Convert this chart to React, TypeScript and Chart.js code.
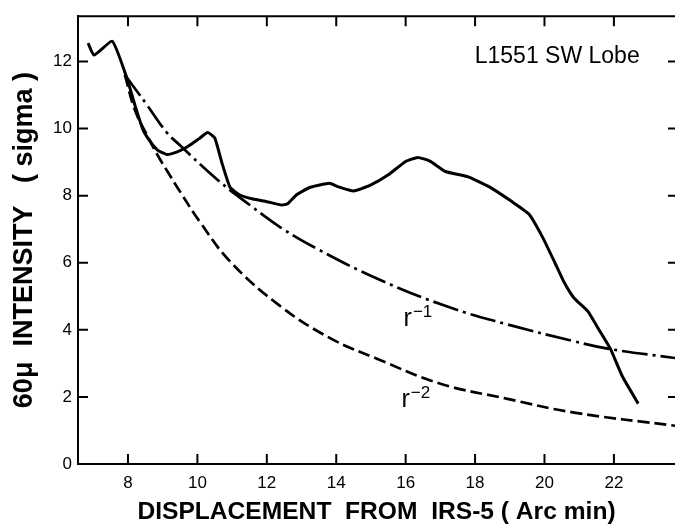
import React, { useEffect, useRef } from "react";
import { Chart, registerables } from "chart.js";

Chart.register(...registerables);

// Axis ticks
const xTickValues = [8, 10, 12, 14, 16, 18, 20, 22];
const yTickValues = [0, 2, 4, 6, 8, 10, 12];

// Observed 60µ intensity profile (solid)
const observedX = [6.85, 7.02, 7.55, 7.97, 8.2, 8.43, 8.65, 8.86, 9.12, 9.4, 9.7, 10.05, 10.3, 10.5, 10.7, 10.94, 11.22, 11.6, 12.0, 12.43, 12.6, 12.85, 13.25, 13.8, 14.05, 14.5, 15.0, 15.5, 16.0, 16.35, 16.7, 17.15, 17.8, 18.4, 19.05, 19.55, 19.95, 20.3, 20.55, 20.85, 21.25, 21.6, 21.9, 22.25, 22.7];
const observedY = [12.55, 12.19, 12.6, 11.5, 10.7, 9.97, 9.6, 9.35, 9.23, 9.3, 9.45, 9.7, 9.88, 9.72, 9.0, 8.25, 8.02, 7.9, 7.82, 7.72, 7.76, 8.02, 8.25, 8.37, 8.27, 8.14, 8.32, 8.62, 9.02, 9.14, 9.03, 8.72, 8.56, 8.27, 7.83, 7.45, 6.75, 6.0, 5.45, 4.95, 4.55, 3.95, 3.43, 2.6, 1.8];

// r^-1 model (dash-dot)
const rInv1X = [7.91, 8.55, 9.12, 9.5, 10.56, 11.51, 12.4, 13.44, 15.17, 17.18, 18.9, 20.81, 21.87, 23.76];
const rInv1Y = [11.6, 10.7, 9.88, 9.5, 8.49, 7.72, 7.05, 6.42, 5.53, 4.7, 4.17, 3.67, 3.43, 3.16];

// r^-2 model (dashed)
const rInv2X = [7.91, 8.2, 8.55, 8.83, 9.21, 9.5, 10.07, 10.94, 12.37, 13.81, 15.17, 16.98, 18.9, 20.81, 23.76];
const rInv2Y = [11.6, 10.55, 9.8, 9.25, 8.6, 8.12, 7.22, 6.04, 4.72, 3.76, 3.14, 2.4, 1.95, 1.54, 1.14];

const X_MIN = 6.56;
const X_MAX = 23.76;
const Y_MIN = 0;
const Y_MAX = 13.35;

const FONT = "'Liberation Sans', Arial, sans-serif";

const toPoints = (xs: number[], ys: number[]) => xs.map((x, i) => ({ x, y: ys[i] }));

const framePlugin = {
  id: "frameAndNotes",
  afterDraw(chart: any) {
    const { ctx, chartArea } = chart;
    const xs = chart.scales.x;
    const ys = chart.scales.y;
    ctx.save();
    ctx.strokeStyle = "#000";
    ctx.lineWidth = 2;
    // top border
    ctx.beginPath();
    ctx.moveTo(chartArea.left, chartArea.top);
    ctx.lineTo(chartArea.right, chartArea.top);
    ctx.stroke();
    const len = 10;
    ctx.beginPath();
    xTickValues.forEach((v) => {
      const px = xs.getPixelForValue(v);
      ctx.moveTo(px, chartArea.bottom);
      ctx.lineTo(px, chartArea.bottom - len);
      ctx.moveTo(px, chartArea.top);
      ctx.lineTo(px, chartArea.top + len);
    });
    yTickValues.forEach((v) => {
      if (v === 0) return;
      const py = ys.getPixelForValue(v);
      ctx.moveTo(chartArea.left, py);
      ctx.lineTo(chartArea.left + len, py);
      ctx.moveTo(chartArea.right, py);
      ctx.lineTo(chartArea.right - 7, py);
    });
    ctx.stroke();

    // notes
    ctx.fillStyle = "#000";
    ctx.textBaseline = "alphabetic";
    ctx.textAlign = "left";
    ctx.font = `23px ${FONT}`;
    ctx.fillText("L1551 SW Lobe", xs.getPixelForValue(17.99), ys.getPixelForValue(11.95));

    const drawR = (label: string, x: number, y: number) => {
      const px = xs.getPixelForValue(x);
      const py = ys.getPixelForValue(y);
      ctx.font = `25px ${FONT}`;
      ctx.fillText("r", px, py);
      const w = ctx.measureText("r").width;
      ctx.font = `17px ${FONT}`;
      ctx.fillText(label, px + w + 1, py - 9);
    };
    drawR("\u22121", 15.94, 4.11);
    drawR("\u22122", 15.88, 1.69);
    ctx.restore();
  },
};

export default function App() {
  const ref = useRef<HTMLCanvasElement | null>(null);
  useEffect(() => {
    document.body.style.margin = "0";
    document.body.style.background = "#fff";
    const canvas = ref.current;
    if (!canvas) return;
    const chart = new Chart(canvas, {
      type: "scatter",
      data: {
        datasets: [
          {
            label: "observed",
            data: toPoints(observedX, observedY),
            showLine: true,
            borderColor: "#000",
            borderWidth: 3,
            pointRadius: 0,
            tension: 0.15,
            fill: false,
          },
          {
            label: "r^-1",
            data: toPoints(rInv1X, rInv1Y),
            showLine: true,
            borderColor: "#000",
            borderWidth: 2.7,
            borderDash: [26, 5, 3, 5],
            pointRadius: 0,
            tension: 0.4,
            fill: false,
          },
          {
            label: "r^-2",
            data: toPoints(rInv2X, rInv2Y),
            showLine: true,
            borderColor: "#000",
            borderWidth: 2.7,
            borderDash: [12, 5],
            pointRadius: 0,
            tension: 0.4,
            fill: false,
          },
        ],
      },
      options: {
        animation: false,
        responsive: false,
        devicePixelRatio: 1,
        layout: { padding: { top: 15, right: 0, left: 0, bottom: 0 } },
        plugins: {
          legend: { display: false },
          tooltip: { enabled: false },
          title: { display: false },
        },
        scales: {
          x: {
            type: "linear",
            min: X_MIN,
            max: X_MAX,
            afterBuildTicks: (scale: any) => {
              scale.ticks = xTickValues.map((v) => ({ value: v }));
            },
            afterFit: (scale: any) => {
              scale.height = 65;
            },
            ticks: {
              color: "#000",
              padding: 9,
              autoSkip: false,
              font: { family: FONT, size: 17 },
              callback: (v: any) => String(v),
              maxRotation: 0,
            },
            grid: { display: true, drawOnChartArea: false, drawTicks: false },
            border: { display: true, color: "#000", width: 2 },
            title: {
              display: true,
              text: "DISPLACEMENT  FROM  IRS-5 ( Arc min)",
              color: "#000",
              font: { family: FONT, size: 24.6, weight: "bold" },
              padding: { top: 2, bottom: 2 },
            },
          },
          y: {
            type: "linear",
            min: Y_MIN,
            max: Y_MAX,
            afterBuildTicks: (scale: any) => {
              scale.ticks = yTickValues.map((v) => ({ value: v }));
            },
            afterFit: (scale: any) => {
              scale.width = 78;
            },
            ticks: {
              color: "#000",
              padding: 6,
              autoSkip: false,
              font: { family: FONT, size: 17 },
              callback: (v: any) => String(v),
            },
            grid: { display: true, drawOnChartArea: false, drawTicks: false },
            border: { display: true, color: "#000", width: 2 },
            title: {
              display: true,
              text: "60\u03bc  INTENSITY   ( sigma )",
              color: "#000",
              font: { family: FONT, size: 27, weight: "bold" },
              padding: { top: 8, bottom: 0 },
            },
          },
        },
      },
      plugins: [framePlugin],
    });
    return () => chart.destroy();
  }, []);
  return <canvas ref={ref} width={675} height={529} style={{ display: "block", width: 675, height: 529 }} />;
}
